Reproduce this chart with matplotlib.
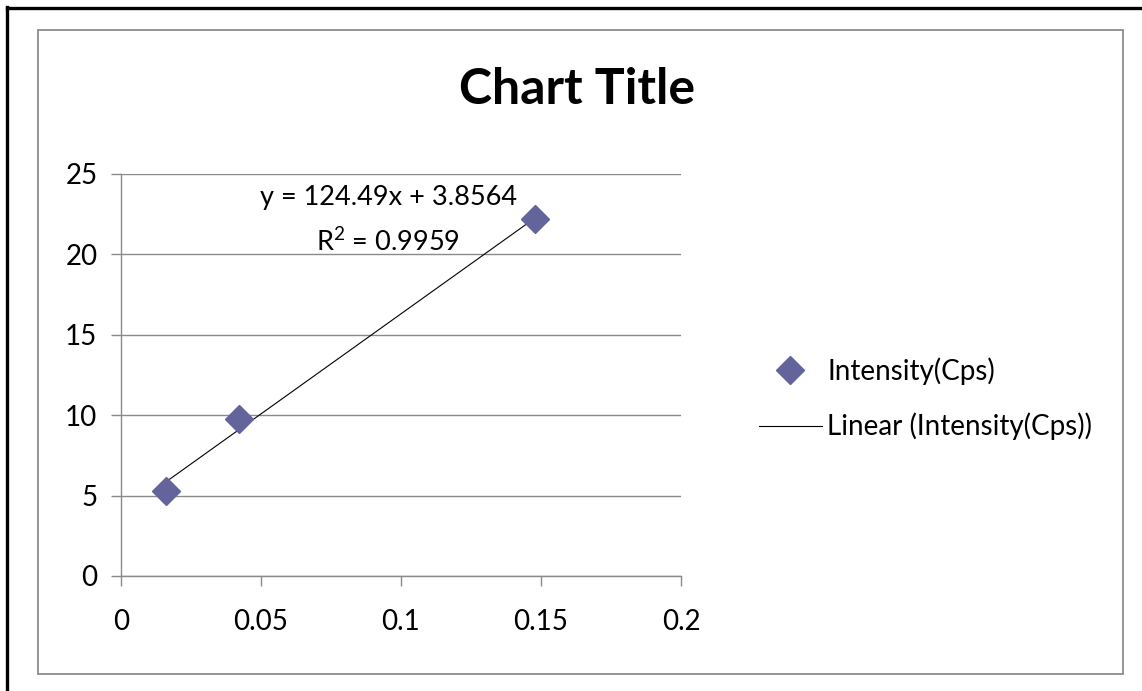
import matplotlib
matplotlib.use('Agg')
import matplotlib.pyplot as plt
from matplotlib.lines import Line2D
from matplotlib.patches import Rectangle
import numpy as np

plt.rcParams['font.family'] = ['Lato', 'DejaVu Sans']

# data
conc = [0.016, 0.042, 0.148]
intensity = [5.3, 9.78, 22.2]
slope = 124.49
intercept = 3.8564
r_squared = 0.9959

x_ticks = [0, 0.05, 0.1, 0.15, 0.2]
x_labels = ['0', '0.05', '0.1', '0.15', '0.2']
y_ticks = [0, 5, 10, 15, 20, 25]

W, H = 1142, 691
fig = plt.figure(figsize=(W / 100, H / 100), dpi=100)

# screenshot edge (black, top and left only) and chart-area frame
fig.add_artist(Line2D([7 / W, 7 / W], [0, 1 - 7 / H], color='black', lw=2.4))
fig.add_artist(Line2D([7 / W, 1], [1 - 8 / H, 1 - 8 / H], color='black', lw=2.4))
fig.add_artist(Rectangle((38 / W, 1 - 674 / H), (1123 - 38) / W, (674 - 30) / H,
                         fill=False, edgecolor='#8c8c8c', lw=1.3))

ax = fig.add_axes([121 / W, 1 - 576 / H, (681 - 121) / W, (576 - 174) / H])

grid_c = '#8a8a8a'
ax.set_xlim(0, 0.2)
ax.set_ylim(0, 25)
ax.set_xticks(x_ticks)
ax.set_xticklabels(x_labels)
ax.set_yticks(y_ticks)
ax.yaxis.grid(True, color=grid_c, lw=1.0)
ax.set_axisbelow(True)
for side in ['top', 'right']:
    ax.spines[side].set_visible(False)
for side in ['left', 'bottom']:
    ax.spines[side].set_color(grid_c)
    ax.spines[side].set_linewidth(1.0)
ax.tick_params(direction='out', length=7, width=1.0, color=grid_c,
               labelsize=20)
ax.tick_params(axis='x', pad=17)
ax.tick_params(axis='y', pad=10)

# trendline over the data range
xs = np.array([min(conc), max(conc)])
ax.plot(xs, slope * xs + intercept, color='black', lw=0.8,
        label='Linear (Intensity(Cps))', zorder=2)
ax.plot(conc, intensity, linestyle='none', marker='D', markersize=14,
        color='#64649c', label='Intensity(Cps)', zorder=3)

ax.text(0.0954, 23.55, f'y = {slope}x + {intercept}', fontsize=19.5,
        ha='center', va='center')
ax.text(0.0954, 20.75, '$\\mathregular{R^2}$ = ' + f'{r_squared}', fontsize=19.5,
        ha='center', va='center')

fig.text(577 / W, 1 - 90 / H, 'Chart Title', fontsize=36, fontweight='bold',
         ha='center', va='center')

handles, labels = ax.get_legend_handles_labels()
fig.legend(handles[::-1], labels[::-1], loc='center left',
           bbox_to_anchor=(734 / W, 1 - 399 / H), frameon=False, fontsize=20,
           handlelength=2.25, handletextpad=0.2, labelspacing=1.0)

fig.savefig('out.png', dpi=100)
